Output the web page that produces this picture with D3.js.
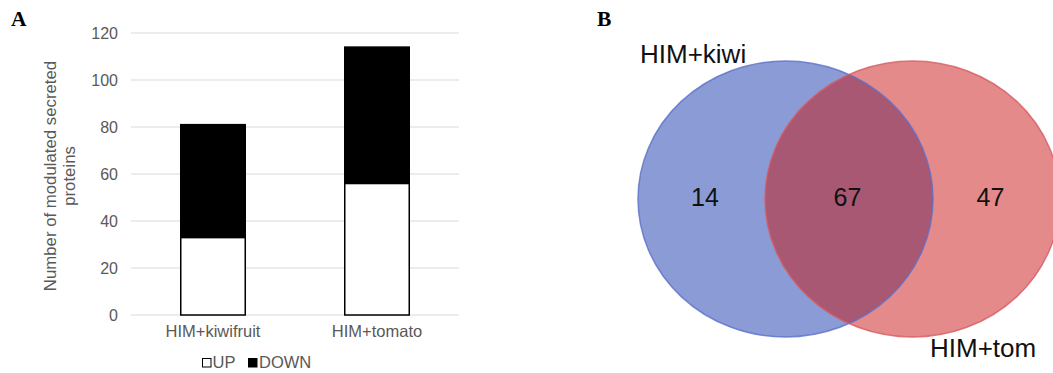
<!DOCTYPE html>
<html>
<head>
<meta charset="utf-8">
<script src="https://cdn.jsdelivr.net/npm/d3@7"></script>
<style>
  html, body { margin: 0; padding: 0; background: #fff; }
  svg { display: block; }
</style>
</head>
<body>
<svg id="fig" width="1053" height="373"></svg>
<script>
// Panel A: stacked counts per condition
const categories = ["HIM+kiwifruit", "HIM+tomato"];
const upValues = [33, 56];
const downValues = [48, 58];
const yTicks = [0, 20, 40, 60, 80, 100, 120];
const seriesNames = ["UP", "DOWN"];

// Panel B: Venn region counts
const vennSets = ["HIM+kiwi", "HIM+tom"];
const vennCounts = [14, 67, 47]; // kiwi only, shared, tomato only

const svg = d3.select("#fig");
const sans = "'Liberation Sans', Arial, sans-serif";
const serif = "'Liberation Serif', 'Times New Roman', serif";
const labelSize = 16.5;

// ---------- Panel A ----------
const plot = { left: 131, right: 459, top: 33, bottom: 315 };
const x = d3.scaleBand().domain(categories).range([plot.left, plot.right])
  .paddingInner(0.5976).paddingOuter(0.2988);
const y = d3.scaleLinear().domain([0, 120]).range([plot.bottom, plot.top]);

const gA = svg.append("g");

gA.append("text").attr("x", 11).attr("y", 26)
  .attr("font-family", serif).attr("font-weight", "bold").attr("font-size", 21.5)
  .text("A");

// gridlines
gA.append("g").selectAll("line").data(yTicks).join("line")
  .attr("x1", plot.left).attr("x2", plot.right)
  .attr("y1", d => y(d)).attr("y2", d => y(d))
  .attr("stroke", "#d9d9d9").attr("stroke-width", 1.2);

// y axis labels
const yAxis = d3.axisLeft(y).tickValues(yTicks).tickSize(0).tickPadding(13);
const gy = gA.append("g").attr("transform", `translate(${plot.left},0)`).call(yAxis);
gy.select(".domain").remove();
gy.selectAll("text").attr("font-family", sans).attr("font-size", 16).attr("fill", "#595959");

// x axis labels
const xAxis = d3.axisBottom(x).tickSize(0).tickPadding(10);
const gx = gA.append("g").attr("transform", `translate(0,${plot.bottom})`).call(xAxis);
gx.select(".domain").remove();
gx.selectAll("text").attr("font-family", sans).attr("font-size", labelSize).attr("fill", "#595959");

// y axis title
gA.append("text")
  .attr("transform", "translate(56,176) rotate(-90)")
  .attr("text-anchor", "middle")
  .attr("font-family", sans).attr("font-size", 16.8).attr("fill", "#595959")
  .selectAll("tspan").data(["Number of modulated secreted", "proteins"]).join("tspan")
  .attr("x", 0).attr("dy", (d, i) => i === 0 ? 0 : 19).text(d => d);

// stacked bars
const stackData = categories.map((c, i) => ({ cat: c, UP: upValues[i], DOWN: downValues[i] }));
const stacked = d3.stack().keys(seriesNames)(stackData);
const fills = { UP: "#ffffff", DOWN: "#000000" };

gA.append("g").selectAll("g").data(stacked).join("g")
  .attr("fill", d => fills[d.key])
  .selectAll("rect").data(d => d).join("rect")
  .attr("x", d => x(d.data.cat) + 0.75)
  .attr("width", x.bandwidth() - 1.5)
  .attr("y", d => y(d[1]))
  .attr("height", d => y(d[0]) - y(d[1]))
  .attr("stroke", "#000").attr("stroke-width", 1.5);

// legend
const leg = gA.append("g").attr("transform", "translate(202,358)");
const legItems = [{ k: "UP", x: 0, tx: 10.5 }, { k: "DOWN", x: 46, tx: 57 }];
leg.selectAll("rect").data(legItems).join("rect")
  .attr("x", d => d.x + 0.5).attr("y", 0.5).attr("width", 8.5).attr("height", 8.5)
  .attr("fill", d => fills[d.k]).attr("stroke", "#000").attr("stroke-width", 1);
leg.selectAll("text").data(legItems).join("text")
  .attr("x", d => d.tx).attr("y", 9.5)
  .attr("font-family", sans).attr("font-size", labelSize).attr("fill", "#595959")
  .text(d => d.k);

// ---------- Panel B ----------
const gB = svg.append("g");
gB.append("text").attr("x", 597).attr("y", 26)
  .attr("font-family", serif).attr("font-weight", "bold").attr("font-size", 21.5)
  .text("B");

const ellipses = [
  { cx: 785.5, cy: 199, rx: 147.5, ry: 138, fill: "#8a9bd6", stroke: "#5b6fc9" },
  { cx: 912.5, cy: 199, rx: 147.5, ry: 138, fill: "#e58a8a", stroke: "#d65a62" }
];

const defs = svg.append("defs");
defs.append("clipPath").attr("id", "clipKiwi")
  .append("ellipse").attr("cx", ellipses[0].cx).attr("cy", ellipses[0].cy)
  .attr("rx", ellipses[0].rx).attr("ry", ellipses[0].ry);

gB.selectAll("ellipse.set").data(ellipses).join("ellipse")
  .attr("class", "set")
  .attr("cx", d => d.cx).attr("cy", d => d.cy).attr("rx", d => d.rx).attr("ry", d => d.ry)
  .attr("fill", d => d.fill);

// shared region
gB.append("ellipse").attr("clip-path", "url(#clipKiwi)")
  .attr("cx", ellipses[1].cx).attr("cy", ellipses[1].cy)
  .attr("rx", ellipses[1].rx).attr("ry", ellipses[1].ry)
  .attr("fill", "#a95874");

// outlines
gB.selectAll("ellipse.edge").data(ellipses).join("ellipse")
  .attr("class", "edge")
  .attr("cx", d => d.cx).attr("cy", d => d.cy).attr("rx", d => d.rx).attr("ry", d => d.ry)
  .attr("fill", "none").attr("stroke", d => d.stroke).attr("stroke-width", 1.5).attr("stroke-opacity", 0.8);

// set labels
gB.append("text").attr("x", 640).attr("y", 63)
  .attr("font-family", sans).attr("font-size", 26).attr("fill", "#111")
  .text(vennSets[0]);
gB.append("text").attr("x", 930).attr("y", 357)
  .attr("font-family", sans).attr("font-size", 26).attr("fill", "#111")
  .text(vennSets[1]);

// region counts
const countPos = [
  (ellipses[0].cx - ellipses[0].rx + ellipses[1].cx - ellipses[1].rx) / 2,
  (ellipses[1].cx - ellipses[1].rx + ellipses[0].cx + ellipses[0].rx) / 2,
  (ellipses[0].cx + ellipses[0].rx + ellipses[1].cx + ellipses[1].rx) / 2
];
gB.selectAll("text.count").data(vennCounts).join("text")
  .attr("class", "count")
  .attr("x", (d, i) => countPos[i] + [3.5, -1.5, -6][i]).attr("y", 206)
  .attr("text-anchor", "middle")
  .attr("font-family", sans).attr("font-size", 25).attr("fill", "#111")
  .text(d => d);
</script>
</body>
</html>
